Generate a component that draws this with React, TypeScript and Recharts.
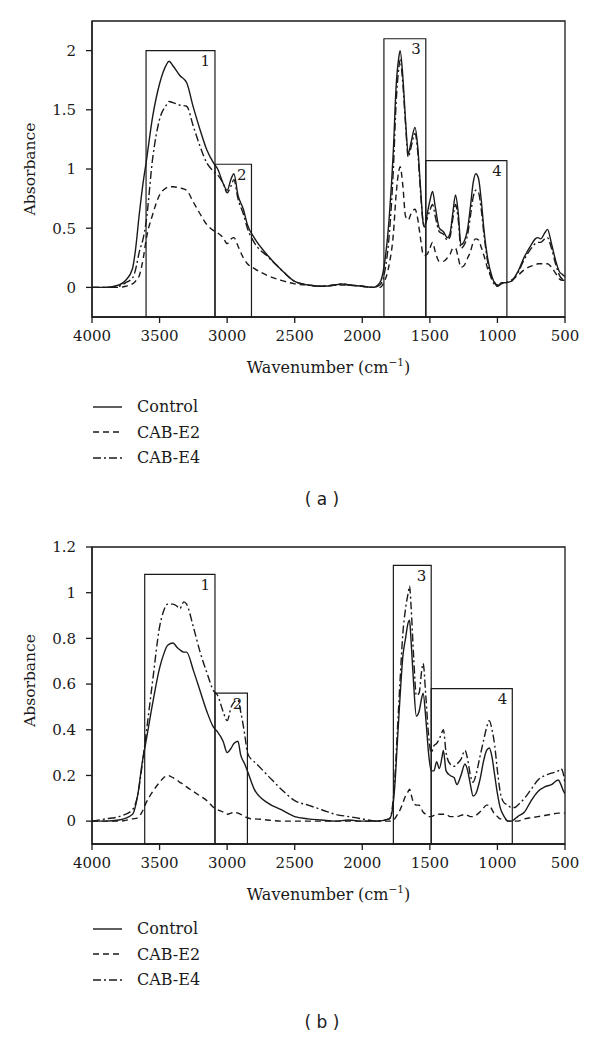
import { LineChart, Line, XAxis, YAxis, ReferenceArea, Label } from 'recharts'

const SERIF = '"DejaVu Serif", "Liberation Serif", "Times New Roman", "Noto Serif", Tinos, serif'
const INK = '#1a1a1a'

const X_TICKS = [4000, 3500, 3000, 2500, 2000, 1500, 1000, 500]

// (a) spectra
const WN_A = [4000, 3900, 3800, 3750, 3700, 3680, 3650, 3620, 3600, 3550, 3500, 3450, 3430, 3400, 3350, 3300, 3250, 3200, 3150, 3100, 3070, 3030, 3000, 2970, 2950, 2920, 2880, 2850, 2800, 2700, 2600, 2500, 2400, 2300, 2200, 2150, 2100, 2000, 1920, 1870, 1840, 1800, 1770, 1750, 1730, 1720, 1700, 1680, 1660, 1640, 1610, 1590, 1570, 1550, 1540, 1520, 1500, 1480, 1460, 1430, 1400, 1370, 1350, 1330, 1310, 1290, 1270, 1250, 1220, 1200, 1180, 1160, 1140, 1120, 1100, 1070, 1040, 1000, 970, 940, 900, 850, 800, 750, 720, 700, 680, 650, 630, 600, 570, 540, 520, 500]
const CONTROL_A = [0, 0, 0.02, 0.06, 0.16, 0.3, 0.62, 0.9, 1.05, 1.45, 1.72, 1.88, 1.91, 1.87, 1.79, 1.73, 1.52, 1.33, 1.16, 1.05, 1.0, 0.88, 0.82, 0.92, 0.96, 0.78, 0.66, 0.53, 0.42, 0.27, 0.15, 0.05, 0.02, 0.01, 0.02, 0.03, 0.02, 0.01, 0, 0.04, 0.17, 0.6, 1.16, 1.69, 1.94, 2.0, 1.78, 1.41, 1.13, 1.22, 1.35, 1.19, 0.86, 0.55, 0.51, 0.62, 0.73, 0.81, 0.68, 0.5, 0.47, 0.42, 0.46, 0.63, 0.78, 0.63, 0.36, 0.38, 0.5, 0.68, 0.88, 0.96, 0.92, 0.74, 0.49, 0.23, 0.09, 0.01, 0.04, 0.04, 0.05, 0.13, 0.26, 0.36, 0.41, 0.42, 0.41, 0.46, 0.49, 0.37, 0.23, 0.13, 0.11, 0.09]
const E2_A = [0, 0, 0, 0.01, 0.03, 0.05, 0.1, 0.25, 0.4, 0.62, 0.78, 0.84, 0.85, 0.85, 0.84, 0.82, 0.72, 0.62, 0.53, 0.48, 0.46, 0.42, 0.37, 0.41, 0.42, 0.35, 0.25, 0.2, 0.16, 0.1, 0.06, 0.03, 0.02, 0.01, 0.02, 0.02, 0.02, 0.01, 0, 0, 0.04, 0.2, 0.45, 0.78, 0.98, 1.02, 0.86, 0.6, 0.57, 0.62, 0.66, 0.58, 0.42, 0.28, 0.27, 0.28, 0.33, 0.38, 0.3, 0.22, 0.22, 0.25, 0.28, 0.33, 0.33, 0.25, 0.17, 0.18, 0.25, 0.3, 0.38, 0.41, 0.4, 0.34, 0.27, 0.15, 0.08, 0.02, 0.04, 0.04, 0.06, 0.1, 0.15, 0.18, 0.19, 0.2, 0.2, 0.2, 0.2, 0.17, 0.12, 0.07, 0.06, 0.06]
const E4_A = [0, 0, 0.01, 0.04, 0.08, 0.14, 0.3, 0.42, 0.55, 1.1, 1.42, 1.54, 1.57, 1.56, 1.54, 1.53, 1.36, 1.19, 1.05, 0.98, 0.95, 0.88, 0.8, 0.86, 0.91, 0.75, 0.62, 0.5, 0.38, 0.26, 0.15, 0.05, 0.02, 0.01, 0.02, 0.03, 0.02, 0.01, 0, 0.02, 0.1, 0.45, 1.0, 1.55, 1.85, 1.92, 1.72, 1.38, 1.1, 1.18, 1.3, 1.15, 0.82, 0.55, 0.52, 0.58, 0.65, 0.7, 0.6, 0.47, 0.45, 0.4, 0.43, 0.58, 0.7, 0.57, 0.33, 0.35, 0.45, 0.6, 0.76, 0.82, 0.8, 0.66, 0.45, 0.2, 0.06, 0.01, 0.03, 0.04, 0.05, 0.12, 0.24, 0.33, 0.37, 0.38, 0.38, 0.41, 0.42, 0.33, 0.2, 0.1, 0.07, 0.06]

// (b) spectra
const WN_B = [4000, 3900, 3800, 3700, 3660, 3630, 3600, 3550, 3500, 3470, 3440, 3400, 3370, 3350, 3320, 3300, 3250, 3200, 3150, 3100, 3070, 3030, 3000, 2970, 2950, 2920, 2900, 2870, 2850, 2820, 2800, 2700, 2600, 2500, 2400, 2300, 2200, 2100, 2000, 1900, 1800, 1780, 1760, 1740, 1720, 1700, 1680, 1660, 1650, 1640, 1620, 1600, 1580, 1560, 1550, 1530, 1510, 1490, 1470, 1450, 1430, 1410, 1400, 1380, 1350, 1320, 1300, 1270, 1240, 1220, 1200, 1180, 1160, 1130, 1100, 1080, 1060, 1040, 1020, 1000, 980, 950, 920, 900, 870, 850, 800, 750, 700, 650, 600, 550, 530, 510, 500]
const CONTROL_B = [0, 0, 0.005, 0.03, 0.12, 0.25, 0.35, 0.52, 0.67, 0.73, 0.77, 0.78, 0.76, 0.75, 0.74, 0.74, 0.66, 0.57, 0.48, 0.41, 0.39, 0.35, 0.3, 0.32, 0.34, 0.35, 0.29, 0.25, 0.22, 0.17, 0.14, 0.08, 0.05, 0.02, 0.01, 0.005, 0, 0.005, 0, 0, 0.01, 0.04, 0.15, 0.35, 0.55, 0.72, 0.8, 0.87, 0.88, 0.8, 0.6, 0.46, 0.48, 0.54, 0.56, 0.45, 0.3, 0.22, 0.22, 0.26, 0.23, 0.28, 0.31, 0.22, 0.2, 0.19, 0.16, 0.2, 0.25, 0.22, 0.16, 0.11, 0.12, 0.18, 0.27, 0.31, 0.32, 0.28, 0.2, 0.12, 0.06, 0.02, 0, 0, 0.01, 0.02, 0.04, 0.09, 0.13, 0.15, 0.16, 0.18, 0.16, 0.13, 0.12]
const E2_B = [0, 0, 0, 0.01, 0.015, 0.04, 0.08, 0.13, 0.17, 0.19, 0.2, 0.19, 0.18, 0.17, 0.16, 0.15, 0.13, 0.11, 0.09, 0.06, 0.05, 0.04, 0.03, 0.035, 0.04, 0.035, 0.03, 0.02, 0.015, 0.01, 0.01, 0.005, 0, 0, 0, 0, 0, 0, 0, 0, 0, 0, 0.01, 0.03, 0.05, 0.08, 0.11, 0.13, 0.14, 0.12, 0.08, 0.07, 0.07, 0.05, 0.04, 0.03, 0.02, 0.02, 0.025, 0.03, 0.03, 0.03, 0.03, 0.03, 0.02, 0.02, 0.02, 0.025, 0.03, 0.025, 0.02, 0.02, 0.025, 0.04, 0.06, 0.07, 0.07, 0.05, 0.03, 0.02, 0.01, 0.01, 0, 0, 0, 0, 0.01, 0.015, 0.02, 0.025, 0.03, 0.035, 0.035, 0.035, 0.035]
const E4_B = [0, 0.01, 0.02, 0.05, 0.12, 0.24, 0.38, 0.62, 0.85, 0.92, 0.95, 0.95, 0.94, 0.93, 0.96, 0.95, 0.85, 0.74, 0.65, 0.57, 0.55, 0.48, 0.44, 0.5, 0.52, 0.53, 0.48, 0.38, 0.3, 0.27, 0.26, 0.2, 0.14, 0.09, 0.07, 0.05, 0.03, 0.02, 0.01, 0, 0.01, 0.05, 0.18, 0.4, 0.62, 0.82, 0.93, 1.0, 1.03, 0.95, 0.72, 0.55, 0.56, 0.66, 0.69, 0.55, 0.38, 0.3, 0.33, 0.34, 0.36, 0.39, 0.4, 0.3, 0.25, 0.24, 0.25, 0.27, 0.31, 0.27, 0.2, 0.17, 0.2, 0.28, 0.36, 0.41, 0.44, 0.4, 0.33, 0.22, 0.13, 0.08, 0.07, 0.06, 0.06, 0.07, 0.1, 0.14, 0.18, 0.2, 0.21, 0.22, 0.23, 0.2, 0.16]

// band boxes: wavenumber range and top edge
const BOX_LABELS = ['1', '2', '3', '4']
const BOX_FROM_A = [3600, 3090, 1840, 1530]
const BOX_TO_A = [3090, 2820, 1530, 930]
const BOX_TOP_A = [2.0, 1.04, 2.1, 1.07]
const BOX_FROM_B = [3610, 3090, 1770, 1490]
const BOX_TO_B = [3090, 2850, 1490, 890]
const BOX_TOP_B = [1.08, 0.56, 1.12, 0.58]

const Y_TICKS_A = [0, 0.5, 1, 1.5, 2]
const Y_TICKS_B = [0, 0.2, 0.4, 0.6, 0.8, 1, 1.2]

const SERIES = [
  { key: 'control', name: 'Control', dash: undefined },
  { key: 'e2', name: 'CAB-E2', dash: '6 4' },
  { key: 'e4', name: 'CAB-E4', dash: '8 3 2 3' },
]

function buildRows(wn: number[], c: number[], e2: number[], e4: number[]) {
  return wn.map((w, i) => ({ wn: w, control: c[i], e2: e2[i], e4: e4[i] }))
}

const ROWS_A = buildRows(WN_A, CONTROL_A, E2_A, E4_A)
const ROWS_B = buildRows(WN_B, CONTROL_B, E2_B, E4_B)

function WavenumberTitle(props: any) {
  const vb = props.viewBox
  return (
    <text x={vb.x + vb.width / 2} y={vb.y + 56} textAnchor="middle" fontFamily={SERIF} fontSize={16} fill={INK}>
      Wavenumber (cm
      <tspan dy={-7} fontSize={10.5}>−1</tspan>
      <tspan dy={7}>)</tspan>
    </text>
  )
}

function Spectrum(props: {
  rows: any[]
  yDomain: [number, number]
  yTicks: number[]
  from: number[]
  to: number[]
  top: number[]
  marginTop: number
  marginBottom: number
  titleShift: number
}) {
  const { rows, yDomain, yTicks, from, to, top } = props
  const tickStyle = { fill: INK, fontSize: 15, fontFamily: SERIF }
  return (
    <LineChart
      width={600}
      height={400}
      data={rows}
      margin={{ top: props.marginTop, right: 35, left: 42, bottom: props.marginBottom }}
      style={{ fontFamily: SERIF }}
    >
      <XAxis
        dataKey="wn"
        type="number"
        domain={[500, 4000]}
        reversed
        ticks={X_TICKS}
        allowDataOverflow
        height={30}
        tick={tickStyle}
        tickMargin={7}
        stroke={INK}
        strokeWidth={1.3}
      >
        <Label content={WavenumberTitle} />
      </XAxis>
      <YAxis
        type="number"
        domain={yDomain}
        ticks={yTicks}
        allowDataOverflow
        width={50}
        tick={tickStyle}
        tickMargin={10}
        stroke={INK}
        strokeWidth={1.3}
      >
        <Label
          content={(p: any) => {
            const vb = p.viewBox
            const cx = 30
            const cy = vb.y + vb.height / 2 + props.titleShift
            return (
              <text x={cx} y={cy} transform={`rotate(-90 ${cx} ${cy})`} textAnchor="middle" dominantBaseline="central" fontFamily={SERIF} fontSize={15.5} fill={INK}>
                Absorbance
              </text>
            )
          }}
        />
      </YAxis>
      <ReferenceArea x1={4000} x2={500} y1={yDomain[0]} y2={yDomain[1]} fill="none" stroke={INK} strokeWidth={1.3} />
      {BOX_LABELS.map((lab, i) => (
        <ReferenceArea
          key={lab}
          x1={from[i]}
          x2={to[i]}
          y1={yDomain[0]}
          y2={top[i]}
          fill="none"
          fillOpacity={0}
          stroke={INK}
          strokeWidth={1.2}
          label={{ value: lab, position: 'insideTopRight', offset: 5, fill: INK, fontSize: 15, fontFamily: SERIF }}
        />
      ))}
      {SERIES.map(s => (
        <Line
          key={s.key}
          dataKey={s.key}
          type="monotone"
          stroke={INK}
          strokeWidth={1.4}
          strokeDasharray={s.dash}
          dot={false}
          activeDot={false}
          isAnimationActive={false}
        />
      ))}
    </LineChart>
  )
}

function LegendBlock({ top }: { top: number }) {
  return (
    <div style={{ position: 'absolute', left: 92, top, fontFamily: SERIF, fontSize: 16, color: INK }}>
      {SERIES.map(s => (
        <div key={s.key} style={{ height: 25.5, display: 'flex', alignItems: 'center' }}>
          <svg width={32} height={10} style={{ marginRight: 13 }}>
            <line x1={1} y1={5} x2={30} y2={5} stroke={INK} strokeWidth={1.4} strokeDasharray={s.dash} />
          </svg>
          <span>{s.name}</span>
        </div>
      ))}
    </div>
  )
}

function Caption({ top, text }: { top: number; text: string }) {
  return (
    <div style={{ position: 'absolute', left: 272, width: 100, top, textAlign: 'center', fontFamily: '"DejaVu Sans", sans-serif', fontSize: 17, color: INK }}>
      {text}
    </div>
  )
}

export default function App() {
  return (
    <div style={{ position: 'absolute', left: 0, top: 0, width: 600, height: 1039, background: '#fff', fontFamily: SERIF }}>
      <div style={{ position: 'absolute', left: 0, top: 0 }}>
        <Spectrum rows={ROWS_A} yDomain={[-0.25, 2.25]} yTicks={Y_TICKS_A} from={BOX_FROM_A} to={BOX_TO_A} top={BOX_TOP_A} marginTop={21} marginBottom={53} titleShift={0} />
      </div>
      <LegendBlock top={394} />
      <Caption top={489} text="( a )" />
      <div style={{ position: 'absolute', left: 0, top: 520 }}>
        <Spectrum rows={ROWS_B} yDomain={[-0.1, 1.2]} yTicks={Y_TICKS_B} from={BOX_FROM_B} to={BOX_TO_B} top={BOX_TOP_B} marginTop={27} marginBottom={46} titleShift={-15} />
      </div>
      <LegendBlock top={916} />
      <Caption top={1012} text="( b )" />
    </div>
  )
}
